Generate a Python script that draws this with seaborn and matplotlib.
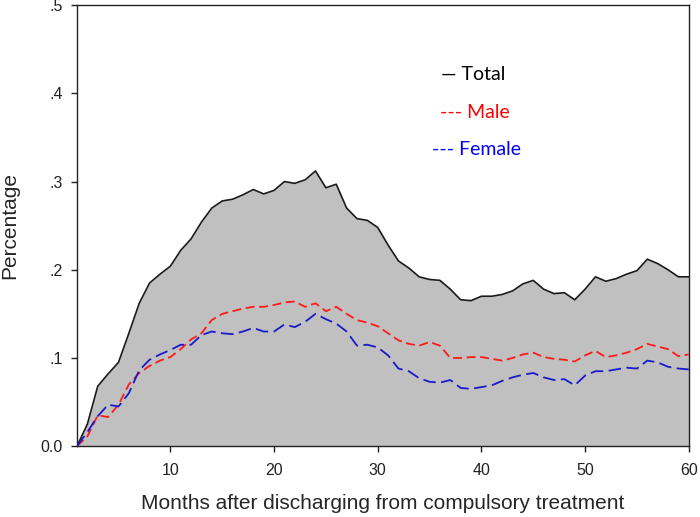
import numpy as np
import pandas as pd
import matplotlib
matplotlib.use("Agg")
import matplotlib.pyplot as plt
import seaborn as sns

# ---- data (month 1..60) ----
months = list(range(1, 61))

total = [0.000, 0.025, 0.068, 0.082, 0.095, 0.128, 0.162, 0.185, 0.195, 0.204,
         0.222, 0.235, 0.254, 0.270, 0.278, 0.280, 0.285, 0.291, 0.286, 0.290,
         0.300, 0.298, 0.302, 0.312, 0.293, 0.297, 0.270, 0.258, 0.256, 0.248,
         0.228, 0.210, 0.202, 0.192, 0.189, 0.188, 0.178, 0.166, 0.165, 0.170,
         0.170, 0.172, 0.176, 0.184, 0.188, 0.178, 0.173, 0.174, 0.166, 0.178,
         0.192, 0.187, 0.190, 0.195, 0.199, 0.212, 0.207, 0.200, 0.192, 0.192]

male = [0.000, 0.011, 0.035, 0.033, 0.047, 0.070, 0.083, 0.091, 0.097, 0.101,
        0.110, 0.121, 0.128, 0.143, 0.150, 0.153, 0.156, 0.158, 0.158, 0.160,
        0.163, 0.164, 0.158, 0.162, 0.153, 0.158, 0.150, 0.143, 0.140, 0.136,
        0.128, 0.120, 0.116, 0.114, 0.118, 0.114, 0.100, 0.100, 0.101, 0.101,
        0.099, 0.097, 0.100, 0.104, 0.106, 0.101, 0.099, 0.098, 0.096, 0.103,
        0.108, 0.101, 0.103, 0.106, 0.110, 0.116, 0.113, 0.110, 0.102, 0.104]

female = [0.000, 0.016, 0.034, 0.047, 0.045, 0.060, 0.086, 0.098, 0.104, 0.109,
          0.115, 0.115, 0.126, 0.130, 0.128, 0.127, 0.130, 0.134, 0.130, 0.130,
          0.138, 0.135, 0.141, 0.150, 0.144, 0.139, 0.130, 0.114, 0.115, 0.112,
          0.103, 0.088, 0.085, 0.077, 0.073, 0.072, 0.075, 0.066, 0.065, 0.067,
          0.069, 0.074, 0.078, 0.081, 0.083, 0.078, 0.075, 0.076, 0.069, 0.080,
          0.085, 0.085, 0.087, 0.089, 0.088, 0.097, 0.095, 0.090, 0.088, 0.087]

yticks = [0.0, 0.1, 0.2, 0.3, 0.4, 0.5]
ytick_labels = ["0.0", ".1", ".2", ".3", ".4", ".5"]
xticks = [10, 20, 30, 40, 50, 60]

df = pd.DataFrame({"month": months, "Total": total, "Male": male, "Female": female})

sns.set_style("white")
plt.rcParams['font.family'] = ['Liberation Sans', 'DejaVu Sans']

fig = plt.figure(figsize=(7, 5.17), dpi=100)
ax = fig.add_axes([0.110, 0.137, 0.874, 0.853])

# ---- shaded area under total ----
ax.fill_between(df["month"], 0, df["Total"], color="#c0c0c0", linewidth=0, zorder=1)
sns.lineplot(data=df, x="month", y="Total", color="#1a1a1a", linewidth=1.2, ax=ax, zorder=3)
sns.lineplot(data=df, x="month", y="Male", color="#ff1a1a", linewidth=1.3,
             ax=ax, zorder=4).lines[-1].set_dashes((5, 2.5))
sns.lineplot(data=df, x="month", y="Female", color="#1a1acc", linewidth=1.3,
             ax=ax, zorder=4).lines[-1].set_dashes((7, 3))

ax.set_xlim(1, 60)
ax.set_ylim(0, 0.5)
ax.set_xticks(xticks)
ax.set_yticks(yticks)
ax.set_yticklabels(ytick_labels)
ax.tick_params(axis="both", which="both", direction="out", length=4, width=1,
               labelsize=11.5, colors="#222222", bottom=True, left=True)
ax.tick_params(axis="y", pad=6)
ax.tick_params(axis="x", pad=8)
for s in ax.spines.values():
    s.set_color("#222222")
    s.set_linewidth(1.0)

ax.set_xlabel("Months after discharging from compulsory treatment", fontsize=15)
ax.set_ylabel("Percentage", fontsize=15)
ax.xaxis.set_label_coords(0.5, -0.108)
ax.yaxis.set_label_coords(-0.095, 0.5)

# ---- text legend ----
leg_font = ['Lato', 'DejaVu Sans']
ax.text(36.1, 0.4216, "— Total", color="black", fontsize=14, va="center", family=leg_font)
ax.text(36.0, 0.378, "--- Male", color="#ff0000", fontsize=14, va="center", family=leg_font)
ax.text(35.2, 0.336, "--- Female", color="#0000ff", fontsize=14, va="center", family=leg_font)

fig.savefig("out.png", dpi=100)
